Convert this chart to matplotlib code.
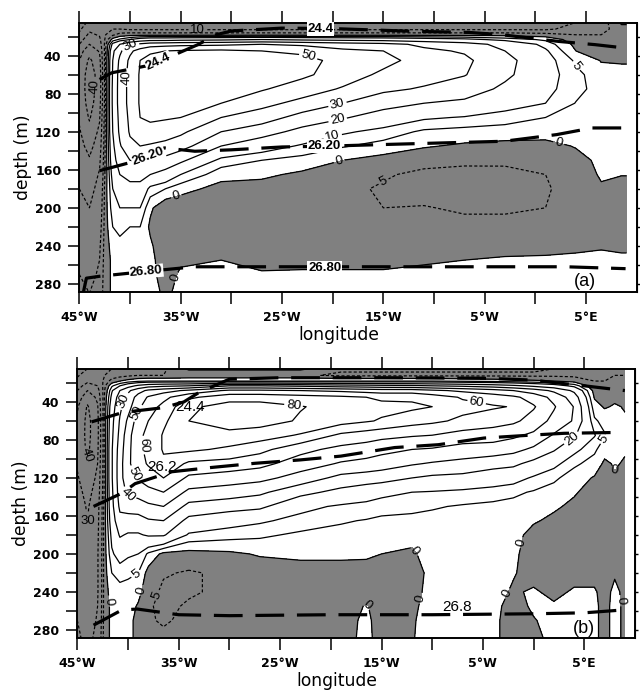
import numpy as np
import matplotlib
matplotlib.use("Agg")
import matplotlib.pyplot as plt

plt.rcParams['font.family'] = ['Liberation Sans', 'DejaVu Sans']

# ---------------- data (zonal velocity, cm/s) ----------------
depth = [5, 12, 18, 23, 28, 35, 45, 60, 75, 90, 105, 120, 135, 150, 165, 180, 200, 220, 240, 255, 270, 290]

lon_a = [-45, -44, -43, -42.4, -41.7, -41, -40, -39, -38, -36.5, -35, -31, -27, -23, -19, -15, -11, -7, -3, 1, 4, 6.5, 8.5, 9]
u_a_cols = [
    [-5, -8, -12, -16, -20, -26, -30, -33, -34, -33, -31, -29, -27, -25, -22, -20, -18, -16, -14, -12, -10, -8],
    [-12, -18, -22, -26, -30, -36, -42, -45, -45, -44, -41, -37, -33, -29, -26, -23, -20, -18, -16, -14, -12, -10],
    [-12, -16, -19, -22, -25, -29, -33, -36, -36, -34, -31, -28, -25, -22, -19, -17, -15, -13, -11, -10, -9, -8],
    [-12, -12, -10, -8, -6, -5, -4, -4, -4, -4, -3, -3, -3, -3, -3, -2, -2, -2, -2, -2, -2, -2],
    [-12, -10, -6, 2, 12, 18, 20, 21, 22, 22, 21, 20, 18, 16, 13, 10, 8, 5, 2, 1, 1, 1],
    [-13, -10, -3, 6, 20, 28, 32, 34, 34, 34, 33, 32, 29, 25, 20, 15, 10, 7, 3, 2, 1, 1],
    [-13, -11, -2, 10, 28, 38, 42, 43, 43, 43, 42, 41, 38, 30, 23, 17, 10, 5, 3, 2, 1, 1],
    [-13, -11, -2, 14, 32, 44, 50, 51, 51, 51, 50, 47, 40, 31, 23, 17, 10, 5, 3, 2, 1, 1],
    [-13, -11, -2, 16, 35, 48, 54, 55, 55, 54, 52, 46, 39, 30, 20, 8, 1, -1, 1, 2, 2, 2],
    [-13, -11, -2, 16, 36, 50, 55, 56, 56, 55, 51, 45, 37, 27, 16, 5, -4, -4.5, -4.5, -4, -3, -1],
    [-13, -11, -2, 17, 37, 51, 55, 56, 56, 54, 50, 42, 34, 22, 10, 2, -4, -4.5, -4, -1, 1, 1.5],
    [-13, -11, -2, 18, 38, 52, 56, 56, 54, 50, 40, 30, 20, 8, 2, -2, -4, -4.5, -3, 0, 1.5, 2],
    [-13, -11, -2, 20, 40, 50, 55, 55, 51, 43, 35, 24, 14, 5, 1, -2, -4, -4, -3, -1.5, 0.5, 1.5],
    [-13, -11, -2, 18, 38, 48, 53, 52, 45, 37, 26, 17, 9, 3, -1, -3, -4, -4, -3, -1, 0.5, 1.5],
    [-13, -11, -2, 17, 35, 42, 47, 45, 39, 30, 21, 11, 5.5, 0, -3, -4, -4.5, -4, -3, -1, 0.5, 1.5],
    [-13, -11, -2, 16, 33, 40, 43, 38, 32, 24, 15, 8, 3, -2, -4.5, -5.5, -5, -4, -3, -1, 0.5, 1.5],
    [-13, -11, -2, 14, 28, 32, 36, 34, 29, 20, 11, 4, 0.5, -3.5, -6, -6.5, -4.8, -4, -3, -0.5, 1, 1.5],
    [-13, -11, -2, 12, 24, 29, 32, 30.5, 25, 18, 9.5, 3, -0.8, -4, -6.5, -7, -5.5, -4, -2, 0, 1, 1.5],
    [-13, -11, -2, 8, 17, 20, 23, 22, 18, 13, 7.5, 2.5, -1.5, -4.3, -6, -6.5, -5.5, -4, -1.5, 0.5, 1, 1.5],
    [-13, -11, -3, 4, 8, 11, 13, 13, 12, 10, 5, 2, -1.5, -3.8, -5, -5.5, -5, -3.5, -1, 0.5, 1, 1.5],
    [-10, -8, -5, -3, -1.5, 0, 4, 6.5, 6.5, 4.8, 3, 1.5, 0.3, -1.5, -2.5, -3, -3, -2, -0.5, 0.5, 1, 1.5],
    [-8, -7, -5, -4, -3, -2, -0.3, 2, 3, 3, 2.5, 2, 1.5, 1, 0.5, -0.5, -2, -1.5, -0.2, 0.5, 1, 1.5],
    [1, -2, -4, -4, -3.5, -2.5, -0.5, 1.5, 2, 2, 2, 1.5, 1, 0.6, 0.1, -1, -1.5, -1, -0.3, 0.3, 0.8, 1],
    [1, -2, -4, -4, -3.5, -2.5, -0.5, 1.5, 2, 2, 2, 1.5, 1, 0.6, 0.1, -1, -1.5, -1, -0.3, 0.3, 0.8, 1],
]

lon_b = [-45, -44, -43, -42.3, -41.6, -40.8, -40, -39, -38, -36.5, -34, -30, -27, -23, -19, -16.5, -15,
         -12, -10, -7, -4, -2, 0, 2, 4, 6, 7, 8, 9]
u_b_cols = [
    [-6, -9, -12, -16, -20, -25, -29, -31, -32, -32, -31, -29, -27, -25, -24, -23, -22, -22, -22, -21, -20, -18],
    [-10, -14, -18, -24, -30, -36, -41, -43, -43, -42, -39, -36, -33, -31, -30, -29, -28, -28, -28, -27, -25, -23],
    [-10, -13, -16, -20, -24, -28, -31, -33, -33, -32, -30, -28, -26, -24, -23, -22, -21, -21, -21, -20, -19, -17],
    [-10, -10, -8, -6, -5, -4, -3, -3, -3, -3, -3, -3, -3, -2, -2, -2, -2, -2, -2, -2, -2, -2],
    [-10, -8, -3, 4, 9, 12, 15, 17, 18, 19, 19, 19, 18, 17, 15, 12, 9, 5, 2, 1, 1, 1],
    [-10, -7, 0, 10, 20, 25, 28, 31, 33, 35, 36, 36, 35, 32, 27, 21, 13, 7, 3, 2, 1, 1],
    [-10, -6, 2, 16, 28, 33, 36, 42, 46, 47, 48, 47, 42, 34, 26, 19, 11, 6, 3, 2, 1, 1],
    [-10, -5, 4, 22, 36, 44, 48, 55, 58, 58, 56, 51, 44, 35, 26, 19, 10, 5, 1.5, -0.5, -1, -1],
    [-10, -5, 5, 26, 42, 51, 55, 60, 62, 62, 61, 55, 47, 38, 29, 21, 4, -2, -3, -4.5, -4.5, -3],
    [-6, -5, 5, 28, 46, 57, 63, 68, 71, 71, 68, 60, 50, 40, 30, 21, -1.5, -4.5, -6, -6, -5.5, -4],
    [1, -4, 5, 30, 52, 68, 78, 80, 79, 72, 58, 48, 37.5, 27, 17, 9, -2, -5.5, -5.5, -4.5, -4, -4],
    [1, -4, 5, 40, 62, 76, 84, 85, 77, 68, 56, 45, 35, 24, 13, 7, -1, -4, -4, -4, -3, -3],
    [1, -4, 5, 40, 62, 76, 84, 84, 75, 63, 53, 43, 32, 22, 11, 6, 0.5, -3, -4, -4, -3.5, -3],
    [1, -4, 5, 38, 60, 74, 80.5, 79, 69, 53, 45, 36, 23, 12, 8, 4, 1, -2, -4, -4, -3.5, -3],
    [-4, -6, 5, 35, 58, 72, 77, 74, 58, 47, 39, 27, 17, 9, 5.5, 3.5, 1.5, -3, -4, -3.5, -3, -3],
    [-4, -6, 5, 34, 56, 70, 75, 71, 55, 45, 37, 25, 14, 8, 4.7, 3, 1, -2.5, -2, 0.5, 1.5, 2],
    [-4, -6, 5, 33, 55, 68, 73, 69, 53, 43, 35, 24, 12, 7, 4, 2.5, 0, -3, -4, -3, -3, -3],
    [-4, -6, 5, 32, 55, 68, 72, 64, 51, 40, 31, 20, 10, 6, 4, 2, -1, -3, -2, -1, -0.5, -0.3],
    [-4, -6, 5, 30, 52, 65, 70, 62, 50, 39, 29, 18, 9.5, 5.5, 3.5, 2.5, 3, 2, 2, 2, 2, 2],
    [-4, -6, 4, 28, 48, 59, 63, 58, 46, 36, 27, 17, 8.5, 4.5, 3, 2.5, 2, 2, 2, 2, 2, 2],
    [-4, -6, 3, 25, 44, 55, 61, 55, 44, 36, 23, 15, 7, 4, 3, 2.5, 2, 1.5, 1.5, 1.5, 1.5, 1.5],
    [-4, -6, 2, 22, 40, 52, 59.5, 52, 42, 33, 22, 13, 6, 3.5, 2.5, 1.5, 0.8, 0.3, -0.5, -2, -3, -3],
    [-4, -6, 1, 18, 35, 46, 51, 46, 38, 28, 17, 9, 4.5, 2, 0.5, -1.5, -2, -1.5, 0.5, 0.8, -0.3, -1.5],
    [-5, -6, 0, 14, 28, 37, 41, 37, 29, 21, 12, 6, 3, 0.7, -1, -2, -2.5, -2, -1, 0.5, 1.5, 1.5],
    [-6, -6, -2, 8, 18, 25, 29.5, 29, 21, 12, 6, 2.5, 0.5, -1, -2, -2, -2, -1.5, 0.5, 1, 1.5, 1.5],
    [-6, -6, -5, -4, -2, -0.5, 2, 6, 10.5, 6, 3, -0.5, -2, -2.5, -2.5, -2, -2, -1.5, 0.5, 1, 1, 1],
    [-6, -6, -5, -4, -3, -2, -0.5, 3, 5.5, 2, -1, -2, -2.5, -2.5, -2.5, -2, -2, -1.5, -1.5, -1.5, -1.5, -1.5],
    [-6, -5, -4, -3, -2, -1, 0.5, 1.5, 2, 1.5, 0.5, -0.5, -1.5, -2, -2, -2, -1.5, -0.5, 1, 1.5, 1.5, 1.5],
    [-6, -5, -4, -3, -2, -1, -0.3, 0.5, 1, 0.5, -0.5, -1.5, -2, -2, -2, -2, -1.5, -1, -1, -1, -1, -1],
]

levels_a = [-40, -30, -20, -10, -5, 0, 5, 10, 20, 30, 40, 50]
levels_b = [-50, -40, -30, -20, -10, -5, 0, 5, 10, 20, 30, 40, 50, 60, 70, 80]

# isopycnals (sigma-theta)
iso_a = {
    "24.4": ([-43.0, -41.8, -38.5, -35.6, -33.3, -31.5, -30.0, -25.0, -20.0, -12.0, -6.6, -3.3, 2.3, 5.9, 8.9],
             [65, 58, 51, 39, 28.4, 18, 14, 11, 11.5, 14.4, 15.5, 18, 25, 28.4, 32]),
    "26.20": ([-43.0, -40.2, -38.5, -36.6, -33.6, -30.0, -25.0, -20.0, -15.9, -6.6, -3.1, 2.1, 5.6, 8.9],
              [161, 153, 145, 137, 140.5, 139, 136, 135, 133.7, 131, 130, 123, 116, 116]),
    "26.80": ([-44.6, -44.3, -43.0, -38.5, -33.6, -25.0, -15.0, -5.0, 3.0, 8.9],
              [289, 274, 272, 267, 262, 262, 262, 262, 262, 264]),
}
iso_b = {
    "24.4": ([-43.6, -40.5, -36.5, -34.5, -33.0, -30.0, -25.0, -15.0, -5.0, 0.0, 1.5, 5.0, 9.0],
             [61, 51, 46, 40, 30, 16, 14.5, 14.5, 15, 17, 19, 23, 28]),
    "26.2": ([-43.4, -40.6, -39.3, -35.7, -31.8, -27.5, -23.0, -19.0, -13.7, -9.4, -4.9, -0.4, 3.0, 8.8],
             [150, 136, 126, 113.5, 109, 104.6, 101, 97, 88, 85, 78, 75, 73, 72]),
    "26.8": ([-43.4, -40.6, -39.1, -35.0, -30.0, -20.0, -10.0, 0.0, 5.0, 8.8],
             [275, 259, 258, 264, 265, 264, 264, 263, 262, 259]),
}

iso_lab_a = [("24.4", -37.2, 46, 25), ("24.4", -21.2, 12, 0), ("26.20", -38.2, 146, 20),
             ("26.20", -20.8, 135, 0), ("26.80", -38.4, 267, 5), ("26.80", -20.8, 263, 0)]
iso_lab_b = [("24.4", -33.9, 45), ("26.2", -36.6, 108), ("26.8", -7.5, 256)]

clab_a = {50: [(-22.5, 44)], 40: [(-40.0, 63)], 30: [(-19.5, 92.6), (-40.0, 29)],
          20: [(-19.5, 108)], 10: [(-20, 125)], 5: [(4, 51)],
          0: [(-19.3, 152.6), (2.3, 132), (-35.6, 181), (-35.9, 272)],
          -5: [(-14.9, 174)], -10: [(-33.3, 14)], -40: [(-43.6, 72)]}
clab_b = {30: [(-40.1, 40)], 50: [(-38.5, 54), (-39.6, 117)], 60: [(-38.7, 85.5), (-5.7, 45)],
          40: [(-40.3, 140)], 80: [(-23.7, 46)], 20: [(3.4, 73)], 5: [(6.3, 75), (-39.1, 223)],
          0: [(-38.8, 238), (-42.2, 250), (-16.2, 252), (-11.4, 246), (-12.1, 200), (-2.3, 243),
              (-1.2, 188), (8.6, 131), (8.9, 249)],
          -5: [(-37.8, 241)], -40: [(-44.2, 96)], -30: [(-44.3, 182)]}

xtick_pos = [-45, -40, -35, -30, -25, -20, -15, -10, -5, 0, 5]
xtick_lab = ["45°W", "", "35°W", "", "25°W", "", "15°W", "", "5°W", "", "5°E"]
ytick_pos = [20, 40, 60, 80, 100, 120, 140, 160, 180, 200, 220, 240, 260, 280]
ytick_lab = ["", "40", "", "80", "", "120", "", "160", "", "200", "", "240", "", "280"]

# ---------------- figure ----------------
fig = plt.figure(figsize=(6.4, 6.94), dpi=100)
ax_a = fig.add_axes([0.1239, 0.5793, 0.871, 0.388])
ax_b = fig.add_axes([0.1208, 0.0807, 0.8714, 0.3876])


def style(ax):
    ax.set_xlim(-45, 10)
    ax.set_ylim(288.5, 5.3)
    ax.set_xticks(xtick_pos)
    ax.set_xticklabels(xtick_lab, fontfamily='DejaVu Sans', fontweight='bold', fontsize=9)
    ax.set_yticks(ytick_pos)
    ax.set_yticklabels(ytick_lab, fontfamily='DejaVu Sans', fontweight='bold', fontsize=9)
    ax.tick_params(axis='x', direction='out', length=8.5, width=1.1, top=True, bottom=True, pad=5)
    ax.tick_params(axis='y', direction='out', length=8, width=1.1, left=True, right=False, pad=5)
    for s in ax.spines.values():
        s.set_linewidth(1.4)
    sec = ax.secondary_yaxis('right')
    sec.set_yticks(ytick_pos)
    sec.set_yticklabels([])
    sec.tick_params(direction='out', length=2.5, width=1.0)
    ax.set_xlabel('longitude', fontsize=12.3, fontfamily='DejaVu Sans', labelpad=2)
    ax.xaxis.set_label_coords(0.466, -0.125)
    ax.set_ylabel('depth (m)', fontsize=12.3, fontfamily='DejaVu Sans', labelpad=2)


def draw(ax, lon, cols, levels, labels):
    U = np.array(cols, dtype=float).T
    ax.contourf(lon, depth, U, levels=[-1000, 0], colors=['#808080'], zorder=1)
    fmt = lambda v: f"{abs(v):g}"
    for lvl in levels:
        if not (U.min() < lvl < U.max()):
            continue
        if lvl < 0:
            cs = ax.contour(lon, depth, U, levels=[lvl], colors='k', linewidths=0.85,
                            linestyles=[(0, (2.6, 1.8))], zorder=2)
        else:
            cs = ax.contour(lon, depth, U, levels=[lvl], colors='k', linewidths=0.9,
                            linestyles='solid', zorder=2)
        if lvl in labels:
            ax.clabel(cs, levels=[lvl], manual=labels[lvl], inline=True, inline_spacing=2,
                      fmt=fmt, fontsize=9.5, colors='k')


for ax in (ax_a, ax_b):
    style(ax)

draw(ax_a, lon_a, u_a_cols, levels_a, clab_a)
draw(ax_b, lon_b, u_b_cols, levels_b, clab_b)

for name, (lx, ly) in iso_a.items():
    ax_a.plot(lx, ly, color='k', lw=2.3, linestyle=(0, (9, 4)), dash_capstyle='butt', zorder=4)
for name, (lx, ly) in iso_b.items():
    ax_b.plot(lx, ly, color='k', lw=2.3, linestyle=(0, (9, 4)), dash_capstyle='butt', zorder=4)

for t, x, y, r in iso_lab_a:
    ax_a.text(x, y, t, fontsize=9.5, fontweight='bold', rotation=r, ha='center', va='center',
              rotation_mode='anchor', zorder=5,
              bbox=dict(boxstyle='square,pad=0.05', fc='white', ec='none'))
for t, x, y in iso_lab_b:
    ax_b.text(x, y, t, fontsize=11, ha='center', va='center', zorder=5)

ax_a.text(4.9, 277, "(a)", fontsize=13, ha='center', va='center', zorder=6)
ax_b.text(5.0, 278, "(b)", fontsize=13, ha='center', va='center', zorder=6)

fig.savefig("out.png", dpi=100)
